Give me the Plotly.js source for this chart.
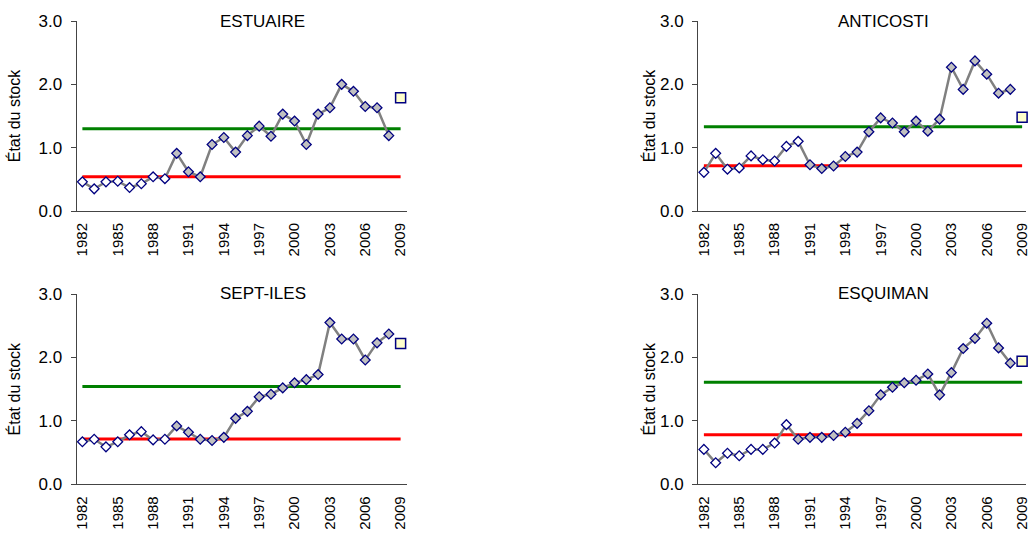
<!DOCTYPE html>
<html>
<head>
<meta charset="utf-8">
<script src="https://cdn.plot.ly/plotly-3.0.1.min.js"></script>
<style>
html,body{margin:0;padding:0;background:#fff;}
#chart{width:1029px;height:535px;}
</style>
</head>
<body>
<div id="chart"></div>
<script>
// ---- data ----
var years = [1982,1983,1984,1985,1986,1987,1988,1989,1990,1991,1992,1993,1994,1995,1996,1997,1998,1999,2000,2001,2002,2003,2004,2005,2006,2007,2008];
var forecastYear = 2009;
var tickYears = [1982,1985,1988,1991,1994,1997,2000,2003,2006,2009];
var tickLabels = ["1982","1985","1988","1991","1994","1997","2000","2003","2006","2009"];
var yTicks = [0,1,2,3];
var yTickLabels = ["0.0","1.0","2.0","3.0"];

var panelNames = ["ESTUAIRE","ANTICOSTI","SEPT-ILES","ESQUIMAN"];

var estuaire  = [0.46,0.35,0.46,0.47,0.37,0.43,0.54,0.51,0.91,0.62,0.54,1.05,1.16,0.93,1.19,1.34,1.18,1.53,1.42,1.05,1.53,1.63,2.00,1.89,1.65,1.63,1.19];
var anticosti = [0.61,0.91,0.66,0.68,0.87,0.81,0.79,1.02,1.10,0.73,0.67,0.71,0.86,0.93,1.25,1.47,1.39,1.25,1.42,1.26,1.45,2.27,1.92,2.37,2.16,1.86,1.92];
var septiles  = [0.67,0.71,0.59,0.67,0.78,0.83,0.70,0.71,0.92,0.82,0.71,0.69,0.74,1.04,1.15,1.38,1.42,1.52,1.60,1.65,1.73,2.55,2.29,2.29,1.96,2.23,2.37];
var esquiman  = [0.55,0.34,0.49,0.45,0.55,0.55,0.65,0.94,0.71,0.74,0.74,0.77,0.82,0.96,1.16,1.41,1.53,1.60,1.64,1.74,1.41,1.76,2.14,2.30,2.54,2.15,1.91];

var forecast   = [1.79, 1.48, 2.22, 1.94];
var upperRef   = [1.30, 1.33, 1.54, 1.61];   // green line
var lowerRef   = [0.54, 0.715, 0.715, 0.78]; // red line
var refPeriodEnd = [1989, 1990, 1989, 1989]; // open (white) markers up to this year

var series = [estuaire, anticosti, septiles, esquiman];

// ---- layout geometry ----
var W = 1029, H = 535;
var xDomains = [[76.5/W, 406.5/W],[698/W, 1026/W],[76.5/W, 406.5/W],[698/W, 1026/W]];
var yDomains = [[(H-211)/H, (H-21)/H],[(H-211)/H, (H-21)/H],[(H-484.3)/H, (H-294)/H],[(H-484.3)/H, (H-294)/H]];
var xRanges = [[1981.5,2009.5],[1981.5,2009.33],[1981.5,2009.5],[1981.5,2009.33]];
var yTitleStandoff = [13, 0, 13, 0];

var axisColor = '#444';
var fontFam = 'Arial, "Liberation Sans", sans-serif';

var traces = [];
var layout = {
  width: W, height: H,
  margin: {l:0, r:0, t:0, b:0},
  paper_bgcolor: '#fff', plot_bgcolor: 'rgba(0,0,0,0)',
  showlegend: false,
  font: {family: fontFam, size: 13, color: '#000'},
  annotations: []
};

for (var i = 0; i < 4; i++) {
  var n = i + 1;
  var xs = n === 1 ? 'x' : 'x' + n;
  var ys = n === 1 ? 'y' : 'y' + n;
  var xk = n === 1 ? 'xaxis' : 'xaxis' + n;
  var yk = n === 1 ? 'yaxis' : 'yaxis' + n;
  var xok = 'xaxis' + (n + 4), yok = 'yaxis' + (n + 4);

  var vals = series[i];
  var fills = years.map(function (yr) { return yr <= refPeriodEnd[i] ? '#ffffff' : '#c0c0c0'; });

  traces.push({x: [years[0], forecastYear], y: [lowerRef[i], lowerRef[i]], xaxis: xs, yaxis: ys,
    mode: 'lines', line: {color: '#ff0000', width: 3}, hoverinfo: 'skip'});
  traces.push({x: [years[0], forecastYear], y: [upperRef[i], upperRef[i]], xaxis: xs, yaxis: ys,
    mode: 'lines', line: {color: '#008000', width: 3}, hoverinfo: 'skip'});
  traces.push({x: years, y: vals, xaxis: xs, yaxis: ys, mode: 'lines+markers',
    line: {color: '#808080', width: 2.5},
    marker: {symbol: 'diamond', size: 7.5, color: fills, line: {color: '#000080', width: 1.3}},
    cliponaxis: false});
  traces.push({x: [forecastYear], y: [forecast[i]], xaxis: xs, yaxis: ys, mode: 'markers',
    marker: {symbol: 'square', size: 10, color: '#ffffcc', line: {color: '#000080', width: 1.5}},
    cliponaxis: false});

  layout[xk] = {domain: xDomains[i], anchor: ys, range: xRanges[i], fixedrange: true,
    tickmode: 'array', tickvals: tickYears, ticktext: tickLabels, tickangle: -90,
    ticks: 'outside', ticklen: 5, tickcolor: 'rgba(0,0,0,0)', ticklabeloverflow: 'allow',
    showgrid: false, zeroline: false, showline: true, linecolor: axisColor, linewidth: 1,
    tickfont: {size: 15, family: fontFam, color: '#000'}};
  layout[xok] = {domain: xDomains[i], anchor: ys, overlaying: xs, range: xRanges[i], fixedrange: true,
    tickmode: 'linear', tick0: 1981.5, dtick: 1, ticks: 'outside', ticklen: 5, tickcolor: axisColor,
    showticklabels: false, showgrid: false, zeroline: false, showline: false};
  layout[yk] = {domain: yDomains[i], anchor: xs, range: [0, 3], fixedrange: true,
    tickmode: 'array', tickvals: yTicks, ticktext: yTickLabels,
    ticks: 'outside', ticklen: 5, tickcolor: axisColor, ticklabelstandoff: 5,
    showgrid: false, zeroline: false, showline: true, linecolor: axisColor, linewidth: 1,
    tickfont: {size: 17, family: fontFam, color: '#000'},
    title: {text: 'État du stock', font: {size: 16, family: fontFam, color: '#000'}, standoff: yTitleStandoff[i]}};
  layout[yok] = {domain: yDomains[i], anchor: xs, overlaying: ys, range: [0, 3], fixedrange: true,
    tickmode: 'array', tickvals: yTicks, ticks: 'inside', ticklen: 6, tickcolor: axisColor,
    showticklabels: false, showgrid: false, zeroline: false, showline: false};

  layout.annotations.push({text: panelNames[i], xref: xs + ' domain', yref: ys + ' domain',
    x: 0.565, y: 1, xanchor: 'center', yanchor: 'middle', showarrow: false,
    font: {size: 17, family: fontFam, color: '#000'}});
}

Plotly.newPlot('chart', traces, layout, {staticPlot: true, displayModeBar: false});
</script>
</body>
</html>
